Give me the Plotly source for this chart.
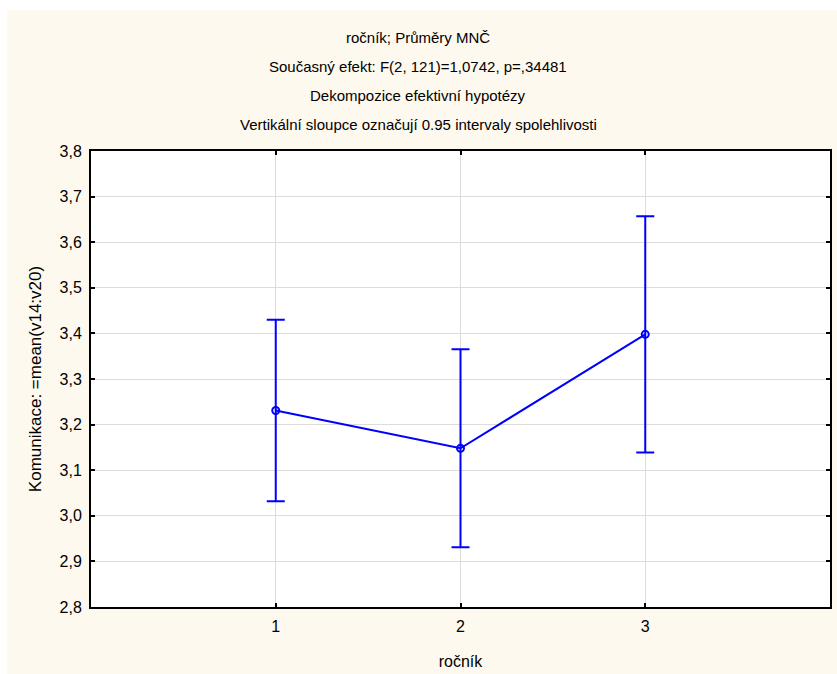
import plotly.graph_objects as go

categories = [1, 2, 3]
means = [3.231, 3.148, 3.398]
ci_half = [0.199, 0.217, 0.259]
y_ticks = [2.8, 2.9, 3.0, 3.1, 3.2, 3.3, 3.4, 3.5, 3.6, 3.7, 3.8]

title_lines = [
    "ročník; Průměry MNČ",
    "Současný efekt: F(2, 121)=1,0742, p=,34481",
    "Dekompozice efektivní hypotézy",
    "Vertikální sloupce označují 0.95 intervaly spolehlivosti",
]
x_title = "ročník"
y_title = "Komunikace: =mean(v14:v20)"

W, H = 837, 674
ml, mr, mt, mb = 91, 5, 151, 67
pw, ph = W - ml - mr, H - mt - mb

FONT = "Liberation Sans, Arial, sans-serif"
BLUE = "#0000ff"
CREAM = "#fef9ee"

fig = go.Figure()
fig.add_trace(go.Scatter(
    x=categories, y=means,
    mode="lines+markers",
    line=dict(color=BLUE, width=2),
    marker=dict(symbol="circle-open", size=7, color=BLUE, line=dict(width=2, color=BLUE)),
    error_y=dict(type="data", array=ci_half, visible=True, color=BLUE, thickness=2, width=9),
    showlegend=False,
    hoverinfo="skip",
))

def px_to_paper_x(px):
    return (px - ml) / pw

def px_to_paper_y(py):
    return (H - mb - py) / ph

shapes = [
    dict(
        type="rect", xref="paper", yref="paper",
        x0=px_to_paper_x(7), x1=px_to_paper_x(W + 5),
        y0=px_to_paper_y(H + 5), y1=px_to_paper_y(10),
        fillcolor=CREAM, line=dict(width=0), layer="below",
    ),
    dict(
        type="rect", xref="paper", yref="paper",
        x0=0, x1=1, y0=0, y1=1,
        fillcolor="#ffffff", line=dict(width=0), layer="below",
    ),
]

annotations = []
line_y = [37, 66, 96, 125]
for txt, py in zip(title_lines, line_y):
    annotations.append(dict(
        text=txt, xref="paper", yref="paper",
        x=px_to_paper_x(419), y=px_to_paper_y(py),
        xanchor="center", yanchor="middle", showarrow=False,
        font=dict(family=FONT, size=15, color="#000000"),
    ))

fig.update_layout(
    width=W, height=H,
    margin=dict(l=ml, r=mr, t=mt, b=mb, pad=0),
    paper_bgcolor="#ffffff",
    plot_bgcolor="rgba(0,0,0,0)",
    separators=",.",
    font=dict(family=FONT, size=15, color="#000000"),
    shapes=shapes,
    annotations=annotations,
    xaxis=dict(
        range=[0, 4], tickvals=categories, ticktext=[str(c) for c in categories],
        showgrid=True, gridcolor="#dcdcdc", gridwidth=1,
        showline=True, linecolor="#000000", linewidth=2, mirror="ticks",
        ticks="inside", ticklen=4, tickwidth=2, tickcolor="#000000",
        zeroline=False, ticklabelstandoff=4,
        tickfont=dict(family=FONT, size=16),
        title=dict(text=x_title, font=dict(family=FONT, size=16), standoff=22),
    ),
    yaxis=dict(
        range=[2.8, 3.8], tickvals=y_ticks, tickformat=".1f",
        showgrid=True, gridcolor="#dcdcdc", gridwidth=1,
        showline=True, linecolor="#000000", linewidth=2, mirror="ticks",
        ticks="inside", ticklen=4, tickwidth=2, tickcolor="#000000",
        zeroline=False, ticklabelstandoff=4,
        tickfont=dict(family=FONT, size=16),
        title=dict(text=y_title, font=dict(family=FONT, size=17), standoff=14),
    ),
)

fig.write_html("out.html")
